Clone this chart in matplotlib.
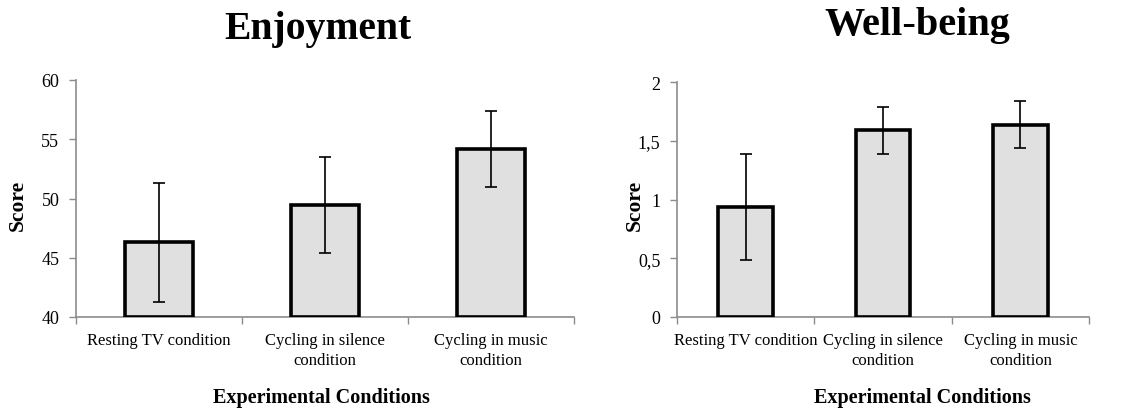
import matplotlib
matplotlib.use("Agg")
import matplotlib.pyplot as plt
import numpy as np

categories = ["Resting TV condition", "Cycling in silence\ncondition", "Cycling in music\ncondition"]
enjoy_mean = [46.3, 49.45, 54.2]
enjoy_err = [5.0, 4.05, 3.2]
well_mean = [0.935, 1.59, 1.635]
well_err = [0.45, 0.2, 0.2]
enjoy_ticks = [40, 45, 50, 55, 60]
well_ticks = [0, 0.5, 1, 1.5, 2]
well_ticklabels = ["0", "0,5", "1", "1,5", "2"]

plt.rcParams['font.family'] = ['Liberation Serif', 'DejaVu Serif']

W, H = 1128, 410
fig = plt.figure(figsize=(W / 100, H / 100), dpi=100)

def px_axes(x0, x1, ytop, ybot):
    return fig.add_axes([x0 / W, (H - ybot) / H, (x1 - x0) / W, (ybot - ytop) / H])

ax1 = px_axes(76, 574, 81, 318)
ax2 = px_axes(677, 1089, 83, 318)

spine_col = "#8c8c8c"

def style(ax, means, errs, width, ylim, ticks, ticklabels):
    x = np.arange(len(means))
    ax.bar(x, [m - ylim[0] for m in means], bottom=ylim[0], width=width,
           color="#e0e0e0", edgecolor="black", linewidth=2.6, zorder=2)
    ax.errorbar(x, means, yerr=errs, fmt="none", ecolor="black",
                elinewidth=1.2, capsize=4, capthick=1.2, zorder=3)
    ax.set_xlim(-0.5, len(means) - 0.5)
    ax.set_ylim(*ylim)
    ax.set_yticks(ticks)
    ax.set_yticklabels(ticklabels)
    ax.set_xticks(np.arange(len(means) + 1) - 0.5)
    ax.set_xticklabels([])
    ax.set_xticks(x, minor=True)
    ax.set_xticklabels(categories, minor=True, fontsize=12, linespacing=1.3)
    ax.tick_params(axis="x", which="minor", length=0, pad=11)
    ax.tick_params(axis="x", which="major", length=5, color=spine_col, width=1)
    ax.tick_params(axis="y", length=5, color=spine_col, width=1, labelsize=13, pad=7)
    for s in ["top", "right"]:
        ax.spines[s].set_visible(False)
    for s in ["left", "bottom"]:
        ax.spines[s].set_color(spine_col)
        ax.spines[s].set_linewidth(1.2)
    ax.spines["bottom"].set_zorder(1)

style(ax1, enjoy_mean, enjoy_err, 0.41, (40, 60), enjoy_ticks, [str(t) for t in enjoy_ticks])
style(ax2, well_mean, well_err, 0.40, (0, 2), well_ticks, well_ticklabels)

fig.text(318 / W, 1 - 39 / H, "Enjoyment", ha="center", va="baseline", fontsize=28.5, fontweight="bold")
fig.text(917 / W, 1 - 35 / H, "Well-being", ha="center", va="baseline", fontsize=29, fontweight="bold")
fig.text(321 / W, 1 - 398 / H, "Experimental Conditions", ha="center", va="center", fontsize=14.5, fontweight="bold")
fig.text(922 / W, 1 - 398 / H, "Experimental Conditions", ha="center", va="center", fontsize=14.5, fontweight="bold")
fig.text(18 / W, 1 - 205 / H, "Score", ha="center", va="center", rotation=90, fontsize=15.5, fontweight="bold")
fig.text(635 / W, 1 - 205 / H, "Score", ha="center", va="center", rotation=90, fontsize=15.5, fontweight="bold")

fig.savefig("out.png", dpi=100)
